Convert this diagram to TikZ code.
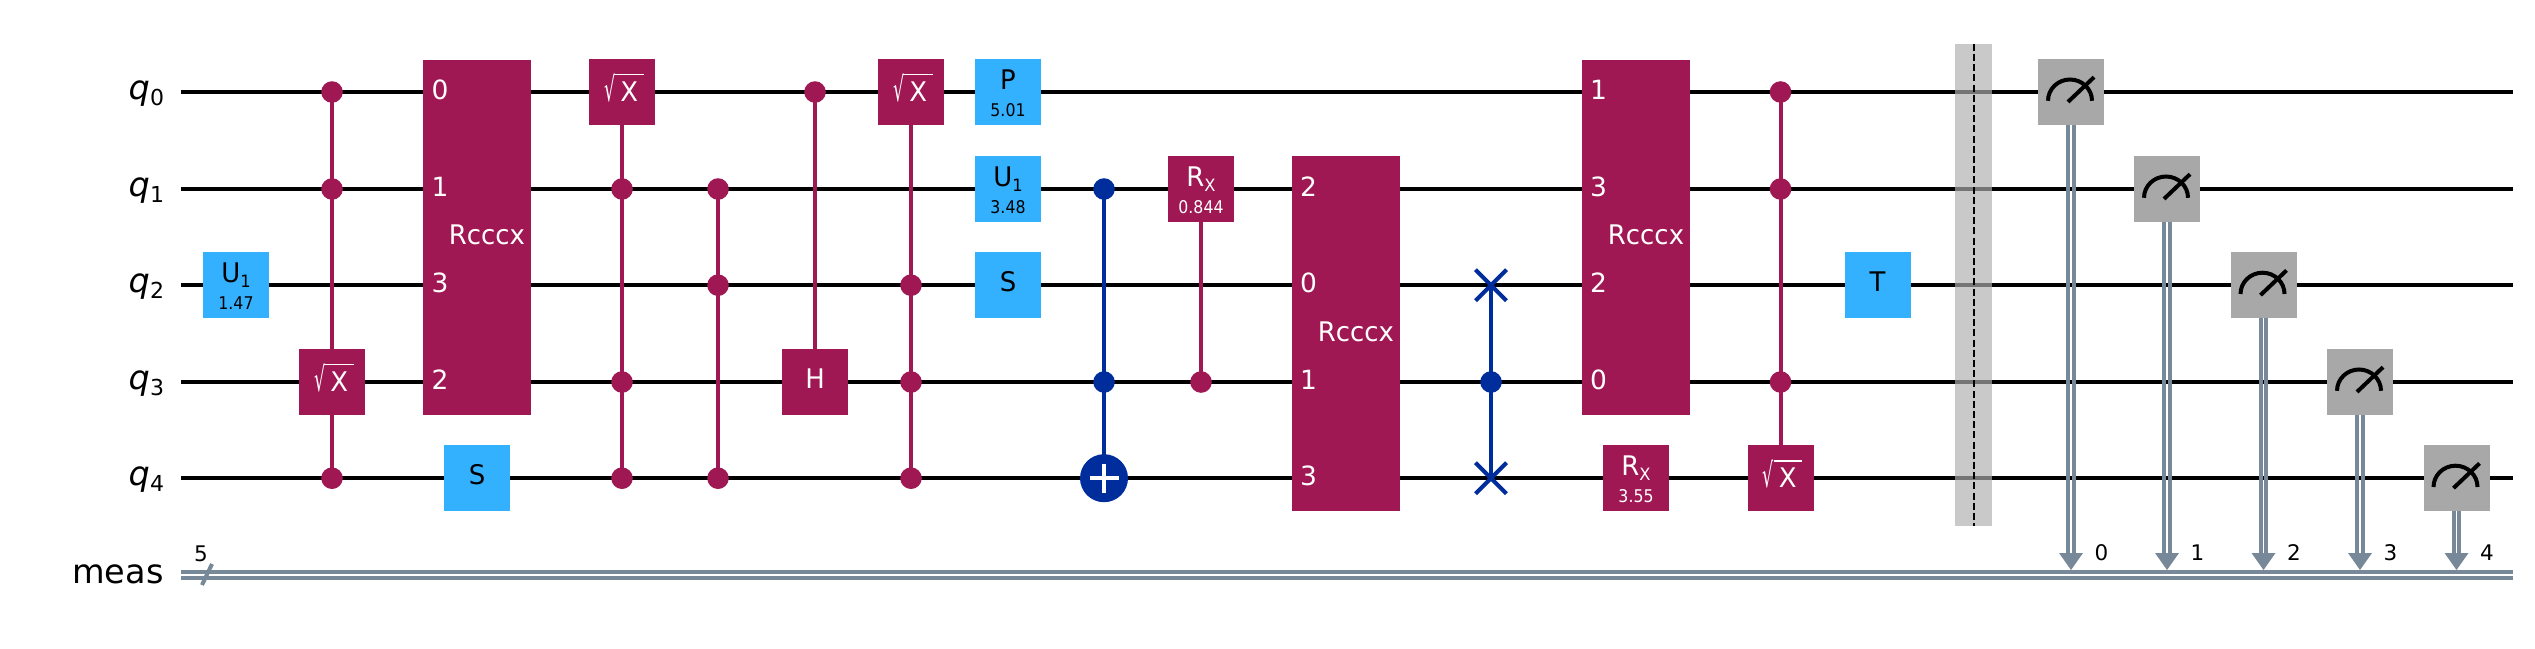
\documentclass[tikz,border=0pt]{standalone}
\usepackage{fontspec}
\usepackage{graphicx}
\setmainfont{DejaVu Sans}
\newfontfamily\gatef[FakeStretch=0.96]{DejaVu Sans}
\newfontfamily\smallf[FakeStretch=0.9]{DejaVu Sans}
\usetikzlibrary{shapes.misc,calc}
\definecolor{qpurple}{HTML}{9F1853}
\definecolor{qblue}{HTML}{33B1FF}
\definecolor{qdark}{HTML}{002D9C}
\definecolor{qgray}{HTML}{A8A8A8}
\definecolor{qclass}{HTML}{778899}
\definecolor{qbar}{HTML}{AFAFAF}
\newcommand\fsz[1]{\fontsize{#1}{#1}\selectfont}
\newcommand\sqx{\hbox{\raisebox{0pt}{\scalebox{0.7}[1.3]{\fsz{26}√}}\rlap{\raisebox{26.4pt}{\rule{28.3pt}{1.3pt}}}\kern5pt\gatef\fsz{27}X\kern4.8pt}}
\tikzset{
  x=1pt,y=1pt,
  wire/.style={line width=4pt,black},
  cwire/.style={line width=4pt,qclass},
  gbox/.style={rectangle,draw=none,minimum width=66pt,minimum height=65.6pt,inner sep=0pt,outer sep=0pt},
  blk/.style={inner sep=0pt,outer sep=0pt},
  lblack/.style={blk,text=black,font=\gatef\fsz{27},anchor=base},
  lwhite/.style={blk,text=white,font=\gatef\fsz{27},anchor=base},
  pblack/.style={blk,text=black,font=\smallf\fsz{17.5},anchor=base},
  pwhite/.style={blk,text=white,font=\smallf\fsz{17.5},anchor=base},
  pin/.style={blk,text=white,font=\fsz{26.5},anchor=base},
  pinname/.style={blk,text=white,font=\gatef\fsz{27},anchor=base},
  dotp/.style={circle,fill=qpurple,draw=none,minimum size=21.6pt,inner sep=0pt,outer sep=0pt},
  dotb/.style={circle,fill=qdark,draw=none,minimum size=21.6pt,inner sep=0pt,outer sep=0pt},
  lp/.style={line width=4pt,qpurple},
  lb/.style={line width=4pt,qdark},
  swapx/.style={cross out,draw=qdark,line width=4pt,minimum width=31pt,minimum height=31pt,inner sep=0pt,outer sep=0pt},
  rbox/.style={rectangle,fill=qpurple,draw=none,minimum width=108pt,minimum height=355pt,inner sep=0pt,outer sep=0pt},
  wname/.style={blk,text=black,anchor=base east,font=\fsz{33.5}},
  cidx/.style={blk,text=black,font=\fsz{21.5},anchor=base},
}
\def\qa{-92}\def\qb{-189}\def\qc{-285.2}\def\qd{-382}\def\qe{-478.2}
% plain gate: name,x,y,colour,textstyle,label
\newcommand\SG[6]{\node[gbox,fill=#4] (#1) at (#2,#3) {};\node[#5] (#1t) at ($(#1.center)+(0,-6.5)$) {#6};}
% sqrt-x gate: name,x,y
\newcommand\SQ[3]{\node[gbox,fill=qpurple] (#1) at (#2,#3) {};\node[lwhite] (#1t) at ($(#1.center)+(1.5,-9.7)$) {\sqx};}
% parameter gate: name,x,y,colour,labelstyle,paramstyle,label,param
\newcommand\PG[8]{\node[gbox,fill=#4] (#1) at (#2,#3) {};\node[#5] (#1t) at ($(#1.center)+(0,2.5)$) {#7};\node[#6] (#1p) at ($(#1.center)+(0,-24)$) {#8};}
\newcommand\SUB[2]{#1\raisebox{-4.6pt}{\fsz{17}#2}}
\newcommand\MEAS[4]{%
  \node[gbox,fill=qgray] (#1) at (#2,#3) {};
  \draw[line width=4pt] ($(#1.center)+(-23,-8.8)$) arc[start angle=180,end angle=0,x radius=22,y radius=21.3];
  \draw[line width=4pt] ($(#1.center)+(-3,-9.9)$) -- ($(#1.center)+(23,14.8)$);
  \coordinate (#1a) at (#2,-553);
  \draw[cwire] ($(#1.south)+(-2.85,0)$) -- ($(#1a)+(-2.85,0)$);
  \draw[cwire] ($(#1.south)+(2.85,0)$) -- ($(#1a)+(2.85,0)$);
  \fill[qclass] ($(#1a)+(-12,0)$) -- ($(#1a)+(12,0)$) -- ($(#1a)+(0,-17)$) -- cycle;
  \node[cidx] (#1i) at ($(#1a)+(30.5,-7.6)$) {#4};}
\begin{document}
\begin{tikzpicture}
\useasboundingbox (0,0) rectangle (2535,-648);
% wires
\foreach \n/\y in {a/\qa,b/\qb,c/\qc,d/\qd,e/\qe}{
  \coordinate (w\n s) at (181,\y);
  \coordinate (w\n e) at (2513,\y);
  \draw[wire] (w\n s) -- (w\n e);
}
\coordinate (cas) at (181,-572); \coordinate (cae) at (2513,-572);
\coordinate (cbs) at (181,-577.8); \coordinate (cbe) at (2513,-577.8);
\draw[cwire] (cas) -- (cae);
\draw[cwire] (cbs) -- (cbe);
\coordinate (sla) at (212,-564); \coordinate (slb) at (202,-585);
\draw[cwire] (sla) -- (slb);
\node[cidx] (regn) at (201,-561) {5};
% wire names
\foreach \n/\y/\i in {qa/\qa/0,qb/\qb/1,qc/\qc/2,qd/\qd/3,qe/\qe/4}{
  \node[wname] (\n) at (164,\y-7.3) {\itshape q\raisebox{-5.7pt}{\upshape\fsz{22}\i}};
}
\node[wname] (qm) at (163.5,-583.5) {meas};
% dots
\node[dotp] (a0) at (332,\qa) {};
\node[dotp] (a1) at (332,\qb) {};
\node[dotp] (a4) at (332,\qe) {};
\node[dotp] (b1) at (622,\qb) {};
\node[dotp] (b3) at (622,\qd) {};
\node[dotp] (b4) at (622,\qe) {};
\node[dotp] (c1) at (718,\qb) {};
\node[dotp] (c2) at (718,\qc) {};
\node[dotp] (c4) at (718,\qe) {};
\node[dotp] (d0) at (815,\qa) {};
\node[dotp] (e2) at (911,\qc) {};
\node[dotp] (e3) at (911,\qd) {};
\node[dotp] (e4) at (911,\qe) {};
\node[dotb] (f1) at (1104,\qb) {};
\node[dotb] (f3) at (1104,\qd) {};
\node[dotp] (h3) at (1201,\qd) {};
\node[dotb] (s3) at (1491,\qd) {};
\node[dotp] (k0) at (1780.5,\qa) {};
\node[dotp] (k1) at (1780.5,\qb) {};
\node[dotp] (k3) at (1780.5,\qd) {};
% connectors
\coordinate (g1c) at (332,\qd); \coordinate (g2c) at (622,\qa);
\coordinate (g3c) at (815,\qd); \coordinate (g4c) at (911,\qa);
\coordinate (g5c) at (1201,\qb); \coordinate (g6c) at (1780.5,\qe);
\coordinate (txc) at (1104,\qe); \coordinate (s2c) at (1491,\qc); \coordinate (s4c) at (1491,\qe);
\draw[lp] (a0.center) -- (a1.center) -- (g1c) -- (a4.center);
\draw[lp] (g2c) -- (b1.center) -- (b3.center) -- (b4.center);
\draw[lp] (c1.center) -- (c2.center) -- (c4.center);
\draw[lp] (d0.center) -- (g3c);
\draw[lp] (g4c) -- (e2.center) -- (e3.center) -- (e4.center);
\draw[lb] (f1.center) -- (f3.center) -- (txc);
\draw[lp] (g5c) -- (h3.center);
\draw[lb] (s2c) -- (s3.center) -- (s4c);
\draw[lp] (k0.center) -- (k1.center) -- (k3.center) -- (g6c);
% target and swap
\node[circle,fill=qdark,draw=none,minimum size=48pt,inner sep=0pt,outer sep=0pt] (tx) at (txc) {};
\coordinate (txl) at ($(tx.center)+(-14.5,0)$); \coordinate (txr) at ($(tx.center)+(14.5,0)$);
\coordinate (txu) at ($(tx.center)+(0,14.5)$); \coordinate (txd) at ($(tx.center)+(0,-14.5)$);
\draw[line width=4pt,white] (txl) -- (txr);
\draw[line width=4pt,white] (txu) -- (txd);
\node[swapx] (s2) at (s2c) {};
\node[swapx] (s4) at (s4c) {};
% gates
\PG{u1}{236}{\qc}{qblue}{lblack}{pblack}{\SUB{U}{1}}{1.47}
\SQ{g1}{332}{\qd}
\SG{s1}{477}{\qe}{qblue}{lblack}{S}
\SQ{g2}{622}{\qa}
\SG{g3}{815}{\qd}{qpurple}{lwhite}{H}
\SQ{g4}{911}{\qa}
\PG{p1}{1008}{\qa}{qblue}{lblack}{pblack}{P}{5.01}
\PG{u2}{1008}{\qb}{qblue}{lblack}{pblack}{\SUB{U}{1}}{3.48}
\SG{s2g}{1008}{\qc}{qblue}{lblack}{S}
\PG{g5}{1201}{\qb}{qpurple}{lwhite}{pwhite}{\SUB{R}{X}}{0.844}
\PG{g7}{1636}{\qe}{qpurple}{lwhite}{pwhite}{\SUB{R}{X}}{3.55}
\SQ{g6}{1780.5}{\qe}
\SG{t1}{1877.5}{\qc}{qblue}{lblack}{T}
% multi-qubit blocks
\node[rbox] (r1) at (476.7,-237.2) {};
\node[pinname] (r1n) at (487,-244) {Rcccx};
\node[pin] (r1a) at (440,-99) {0};
\node[pin] (r1b) at (440,-196) {1};
\node[pin] (r1c) at (440,-292.5) {3};
\node[pin] (r1d) at (440,-389) {2};
\node[rbox] (r2) at (1346,-333.8) {};
\node[pinname] (r2n) at (1356,-341) {Rcccx};
\node[pin] (r2a) at (1308.5,-196) {2};
\node[pin] (r2b) at (1308.5,-292.5) {0};
\node[pin] (r2c) at (1308.5,-389) {1};
\node[pin] (r2d) at (1308.5,-485.5) {3};
\node[rbox] (r3) at (1636,-237.2) {};
\node[pinname] (r3n) at (1646,-244) {Rcccx};
\node[pin] (r3a) at (1598.5,-99) {1};
\node[pin] (r3b) at (1598.5,-196) {3};
\node[pin] (r3c) at (1598.5,-292.5) {2};
\node[pin] (r3d) at (1598.5,-389) {0};
% barrier
\node[rectangle,fill=qbar,fill opacity=.67,draw=none,minimum width=36.8pt,minimum height=482.6pt,inner sep=0pt,outer sep=0pt] (bar) at (1973.5,-285) {};
\draw[line width=2pt,black,dash pattern=on 7pt off 3.2pt] (bar.north) -- (bar.south);
% measurements
\MEAS{m0}{2071}{\qa}{0}
\MEAS{m1}{2167}{\qb}{1}
\MEAS{m2}{2263.5}{\qc}{2}
\MEAS{m3}{2360}{\qd}{3}
\MEAS{m4}{2456.5}{\qe}{4}
\end{tikzpicture}
\end{document}
